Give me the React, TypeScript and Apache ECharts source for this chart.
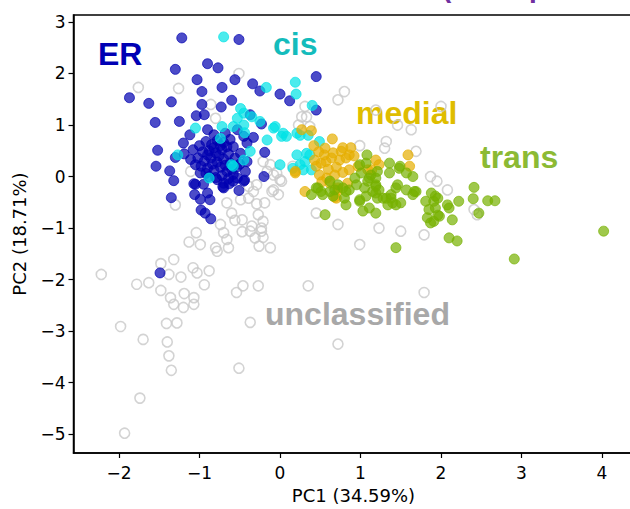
import { useEffect, useRef } from "react";
import * as echarts from "echarts";

const xTicks = [-2, -1, 0, 1, 2, 3, 4];
const yTicks = [-5, -4, -3, -2, -1, 0, 1, 2, 3];
const xTitle = "PC1 (34.59%)";
const yTitle = "PC2 (18.71%)";

const erPoints = [
  [-1.22, 2.69], [-0.51, 2.66], [-1.30, 2.08], [-0.90, 2.19], [-0.77, 2.11], [-1.03, 1.88], [-0.56, 1.88],
  [-0.34, 1.80], [-0.72, 1.73], [-0.97, 1.65], [-0.25, 1.66], [-1.87, 1.53], [-1.63, 1.42], [-1.35, 1.45],
  [0.00, 1.60], [0.12, 1.47], [-0.97, 1.40], [-0.60, 1.48], [-0.73, 1.35], [-1.04, 1.18], [-0.94, 1.20],
  [-1.55, 1.05], [-1.25, 1.07], [-1.52, 0.51], [-1.54, 0.20], [-1.37, 0.11], [-1.32, -0.08], [-1.30, 0.37],
  [-0.19, 0.47], [-0.20, 0.00], [-0.23, 1.02], [-0.33, 0.76], [-1.35, -0.41], [-1.07, -0.14], [-1.06, -0.35],
  [-0.99, -0.44], [-0.90, -0.32], [-0.87, -0.45], [-0.98, -0.65], [-0.93, -0.71], [-0.86, -0.82], [-0.71, -0.20],
  [-0.63, -0.14], [-0.51, -0.27], [-0.44, -0.07], [-1.49, -1.87], [0.45, 1.94], [0.45, 1.29], [-0.37, 1.20],
  [-1.20, 0.65], [-1.12, 0.81], [-1.19, 0.44], [-1.11, 0.33], [-1.05, 0.23], [-0.99, 0.07], [-0.90, 0.91],
  [-0.82, 0.81], [-0.68, 0.84], [-0.53, 0.91], [-0.45, 0.78], [-0.41, 0.65], [-0.70, -0.13], [-0.70, -0.22],
  [-0.53, -0.03], [-0.43, 0.10], [-0.41, 0.29], [-0.49, 0.45], [-0.58, 0.58], [-1.05, -0.15], [-0.95, -0.15],
  [-0.78, -0.06], [-0.58, -0.09], [-0.45, -0.09],
  [-1.00, 0.60], [-0.92, 0.68], [-0.85, 0.62], [-0.78, 0.70], [-0.70, 0.66], [-0.62, 0.72], [-0.96, 0.48],
  [-0.88, 0.50], [-0.80, 0.46], [-0.72, 0.52], [-0.64, 0.44], [-0.56, 0.36], [-1.02, 0.36], [-0.94, 0.30],
  [-0.86, 0.36], [-0.78, 0.28], [-0.70, 0.34], [-0.62, 0.26], [-0.54, 0.18], [-0.90, 0.16], [-0.82, 0.12],
  [-0.74, 0.18], [-0.66, 0.10], [-0.58, 0.04], [-0.88, 0.00], [-0.80, -0.02], [-0.72, 0.02], [-0.64, -0.04],
  [-0.84, 0.24], [-0.76, 0.40], [-0.68, 0.22], [-0.60, 0.14], [-0.92, 0.06], [-0.98, 0.20], [-1.08, 0.52],
  [-0.50, 0.24], [-0.82, 0.56], [-0.66, 0.58], [-0.74, 0.60], [-0.90, 0.42],
];

const cisPoints = [
  [-0.70, 2.71], [-0.17, 1.73], [0.19, 1.83], [0.20, 1.60], [0.40, 1.38], [-0.49, 1.32], [-0.45, 1.23],
  [-0.35, 1.16], [-0.53, 1.13], [-0.25, 1.07], [-0.06, 0.97], [0.04, 0.84], [-1.05, 0.94], [-0.72, 0.97],
  [-0.58, 0.97], [-0.45, 1.00], [0.21, 0.84], [-0.08, 0.94], [0.02, 0.78], [0.08, 0.78], [-0.16, 0.71],
  [0.25, 0.80], [0.35, 0.80], [-1.27, 0.42], [-0.37, 0.49], [-0.45, 0.32], [-0.58, 0.20], [-0.88, -0.03],
  [0.00, 0.23], [0.33, 0.45], [-0.74, 0.74], [-0.44, 0.85], [-0.60, 0.23], [0.49, 0.68], [0.21, 0.42],
  [0.25, 0.23], [0.31, 0.29], [0.37, 0.42], [0.16, 0.16], [0.29, 0.13], [0.39, 0.13],
];

const medialPoints = [
  [0.27, 0.91], [0.39, 0.89], [0.65, 0.73], [0.42, 0.60], [0.56, 0.55], [0.78, 0.56], [0.88, 0.56],
  [0.86, 0.42], [0.19, 0.10], [0.31, -0.29], [0.68, -0.40], [0.72, -0.26], [1.19, 0.32], [1.23, 0.23],
  [1.59, 0.42], [1.61, 0.20], [0.76, 0.49], [0.43, 0.32], [0.51, 0.26], [0.57, 0.29], [0.64, 0.36],
  [0.74, 0.32], [0.82, 0.36], [0.86, 0.13], [0.97, 0.20], [0.49, 0.03], [0.58, -0.03], [0.68, 0.03],
  [0.62, -0.13], [0.72, -0.22], [0.84, -0.13], [1.09, 0.13], [1.14, 0.13], [0.70, -0.42], [0.19, 0.07],
  [0.45, 0.20], [0.55, 0.42], [0.66, 0.46], [0.60, 0.14], [0.70, 0.18], [0.78, 0.08], [0.52, -0.10],
  [0.92, 0.40], [0.48, 0.48],
];

const transPoints = [
  [1.08, 0.42], [1.07, 0.26], [0.99, 0.23], [1.01, 0.07], [0.93, -0.03], [0.95, -0.16], [0.86, -0.26],
  [0.82, -0.29], [1.36, 0.26], [1.48, 0.16], [1.57, 0.07], [1.65, 0.00], [1.36, 0.07], [1.46, -0.16],
  [1.57, -0.26], [1.69, -0.29], [1.65, -0.35], [1.19, -0.32], [1.28, -0.42], [1.34, -0.55], [1.44, -0.55],
  [1.05, -0.22], [1.11, -0.03], [1.19, -0.16], [0.78, -0.22], [0.99, -0.48], [1.03, -0.67], [1.19, -0.71],
  [0.82, -0.55], [0.56, -0.74], [0.39, -0.35], [0.47, -0.22], [0.62, -0.09], [0.68, -0.26], [0.51, -0.29],
  [1.44, -1.38], [1.81, -0.48], [1.91, -0.48], [1.85, -0.64], [1.93, -0.61], [1.83, -0.80], [1.91, -0.87],
  [1.98, -0.77], [1.93, -0.38], [1.88, -0.32], [2.10, -0.61], [2.22, -0.48], [2.14, -0.84], [2.10, -1.19],
  [2.20, -1.25], [1.38, -0.42], [1.50, -0.51], [1.96, -0.42], [1.96, -0.75], [1.87, -0.90], [2.08, -0.55],
  [2.41, -0.21], [2.40, -0.43], [2.47, -0.71], [2.58, -0.47], [2.67, -0.47], [2.91, -1.60], [4.02, -1.06],
  [1.13, 0.03], [1.21, 0.10], [1.19, -0.03], [1.09, -0.09], [1.19, -0.19], [1.23, -0.26], [1.15, -0.29],
  [1.07, -0.38], [1.21, -0.42], [1.32, -0.42], [1.38, -0.35], [1.44, -0.22], [1.67, -0.29], [1.40, -0.51],
  [0.45, -0.22], [0.53, -0.35], [0.66, -0.38], [0.80, -0.42], [0.72, -0.16], [0.62, -0.29], [1.11, -0.61],
  [0.99, -0.45], [1.49, 0.20],
];

const unclassifiedPoints = [
  [-1.76, 1.73], [-1.26, 1.71], [-0.51, 2.00], [-0.86, 1.40], [-0.80, 1.13], [0.31, 1.36], [0.27, 1.16],
  [0.33, 1.16], [-0.21, 0.29], [-0.12, 0.23], [-0.16, 0.10], [-0.08, 0.03], [0.00, -0.06], [-0.08, -0.26],
  [0.16, 0.20], [-1.11, 0.10], [-0.39, -0.19], [0.23, 1.00], [0.72, 1.49], [0.80, 1.65], [0.37, 0.97],
  [1.19, 1.29], [1.46, 1.00], [1.63, 0.91], [2.00, 1.36], [1.32, 0.68], [1.30, 0.55], [1.69, 0.49],
  [0.99, 0.60], [1.87, 0.00], [1.95, -0.09], [2.08, -0.26], [2.41, -0.64], [2.45, -0.74], [0.45, -0.71],
  [0.72, -0.93], [1.23, -1.00], [1.50, -1.06], [1.79, -1.13], [0.99, -1.32], [-0.04, 0.07], [-0.10, -0.29],
  [-0.02, -0.35], [-0.19, -0.51], [-0.27, -0.74], [-0.21, -0.87], [-0.23, -1.06], [-0.31, -1.19], [-0.12, -1.38],
  [-0.29, -0.16], [-0.33, -0.29], [1.79, -2.25], [0.35, -2.12], [-0.27, -2.12], [-0.37, -2.83], [0.72, -3.25],
  [0.02, -0.09], [-1.30, -0.55], [-0.66, -0.51], [-0.60, -0.71], [-0.56, -0.85], [-0.47, -0.84], [-0.39, -0.42],
  [-0.29, -0.53], [-0.49, -0.45], [-0.74, -0.93], [-0.70, -1.09], [-0.66, -1.22], [-0.64, -1.38], [-0.47, -1.07],
  [-0.37, -1.06], [-0.35, -0.96], [-0.23, -1.00], [-0.21, -1.18], [-0.26, -1.35], [-0.80, -1.38], [-0.78, -1.45],
  [-1.04, -1.09], [-0.99, -1.32], [-1.13, -1.27], [-1.32, -1.61], [-1.48, -1.69], [-1.38, -1.90], [-1.23, -1.95],
  [-1.08, -1.77], [-1.03, -1.87], [-0.88, -1.83], [-0.94, -2.10], [-2.22, -1.90], [-1.78, -2.09], [-1.63, -2.06],
  [-1.48, -2.21], [-1.36, -2.35], [-1.32, -2.48], [-1.19, -2.27], [-1.20, -2.54], [-1.07, -2.35], [-1.07, -2.48],
  [-1.41, -2.85], [-1.28, -2.84], [-1.40, -3.21], [-1.38, -3.48], [-1.35, -3.76], [-1.98, -2.91], [-1.70, -3.16],
  [-1.74, -4.30], [-1.93, -4.98], [-0.51, -3.72], [-0.46, -2.12], [-0.54, -2.25],
];

const minus = (v: number) => String(v).replace("-", "\u2212");

function filled(name: string, data: number[][], rgb: string) {
  return {
    type: "scatter",
    name,
    data,
    symbol: "circle",
    symbolSize: 10,
    itemStyle: {
      color: `rgba(${rgb},0.7)`,
      borderColor: `rgba(${rgb},0.7)`,
      borderWidth: 1,
      opacity: 1,
    },
    silent: true,
  };
}

export default function App() {
  const ref = useRef<HTMLDivElement>(null);
  useEffect(() => {
    if (!ref.current) return;
    const chart = echarts.init(ref.current, undefined, { renderer: "svg" });
    const labelFont = '"Liberation Sans", Arial, sans-serif';
    const tickFont = '"DejaVu Sans", sans-serif';
    chart.setOption({
      animation: false,
      backgroundColor: "#fff",
      grid: {
        left: 73.5,
        top: 15,
        width: 560,
        height: 442,
        show: true,
        borderColor: "#000",
        borderWidth: 1.5,
        backgroundColor: "transparent",
      },
      xAxis: {
        type: "value",
        min: -2.565,
        max: 4.391,
        splitLine: { show: false },
        axisLine: { show: true, onZero: false, lineStyle: { color: "#000", width: 1.5 } },
        axisTick: { show: true, customValues: xTicks, length: 5, lineStyle: { color: "#000", width: 1.2 } },
        axisLabel: {
          customValues: xTicks,
          formatter: (v: number) => minus(v),
          fontFamily: tickFont,
          fontSize: 17,
          color: "#000",
          margin: 11,
        },
        name: xTitle,
        nameLocation: "middle",
        nameGap: 33,
        nameTextStyle: { fontFamily: tickFont, fontSize: 18, color: "#000" },
      },
      yAxis: {
        type: "value",
        min: -5.365,
        max: 3.135,
        splitLine: { show: false },
        axisLine: { show: true, onZero: false, lineStyle: { color: "#000", width: 1.5 } },
        axisTick: { show: true, customValues: yTicks, length: 5, lineStyle: { color: "#000", width: 1.2 } },
        axisLabel: {
          customValues: yTicks,
          formatter: (v: number) => minus(v),
          fontFamily: tickFont,
          fontSize: 17,
          color: "#000",
          margin: 8,
        },
        name: yTitle,
        nameLocation: "middle",
        nameRotate: 90,
        nameGap: 45,
        nameTextStyle: { fontFamily: tickFont, fontSize: 18, color: "#000" },
      },
      series: [
        {
          type: "scatter",
          name: "unclassified",
          data: unclassifiedPoints,
          symbol: "circle",
          symbolSize: 10,
          itemStyle: { color: "rgba(0,0,0,0)", borderColor: "#c8c8c8", borderWidth: 1.6 },
          silent: true,
        },
        filled("ER", erPoints, "0,0,176"),
        filled("cis", cisPoints, "0,226,230"),
        filled("medial", medialPoints, "230,174,0"),
        filled("trans", transPoints, "118,176,0"),
      ],
      graphic: [
        { type: "text", x: 442, y: -12.6, silent: true, style: { text: "(other proteins)", fill: "#7030a0", font: `bold 28px ${labelFont}`, align: "left", verticalAlign: "middle" } },
        { type: "text", x: 98, y: 54, silent: true, style: { text: "ER", fill: "#0000b4", font: `bold 32px ${labelFont}`, align: "left", verticalAlign: "middle" } },
        { type: "text", x: 273, y: 44, silent: true, style: { text: "cis", fill: "#14bcbc", font: `bold 32px ${labelFont}`, align: "left", verticalAlign: "middle" } },
        { type: "text", x: 356, y: 113, silent: true, style: { text: "medial", fill: "#dfbd00", font: `bold 32px ${labelFont}`, align: "left", verticalAlign: "middle" } },
        { type: "text", x: 480, y: 157, silent: true, style: { text: "trans", fill: "#8cba34", font: `bold 32px ${labelFont}`, align: "left", verticalAlign: "middle" } },
        { type: "text", x: 265, y: 314, silent: true, style: { text: "unclassified", fill: "#a8a8a8", font: `bold 32px ${labelFont}`, align: "left", verticalAlign: "middle" } },
      ],
    });
    return () => chart.dispose();
  }, []);
  return (
    <div style={{ position: "fixed", left: 0, top: 0, width: 630, height: 509, overflow: "hidden", background: "#fff" }}>
      <div ref={ref} style={{ width: 660, height: 509 }} />
    </div>
  );
}
